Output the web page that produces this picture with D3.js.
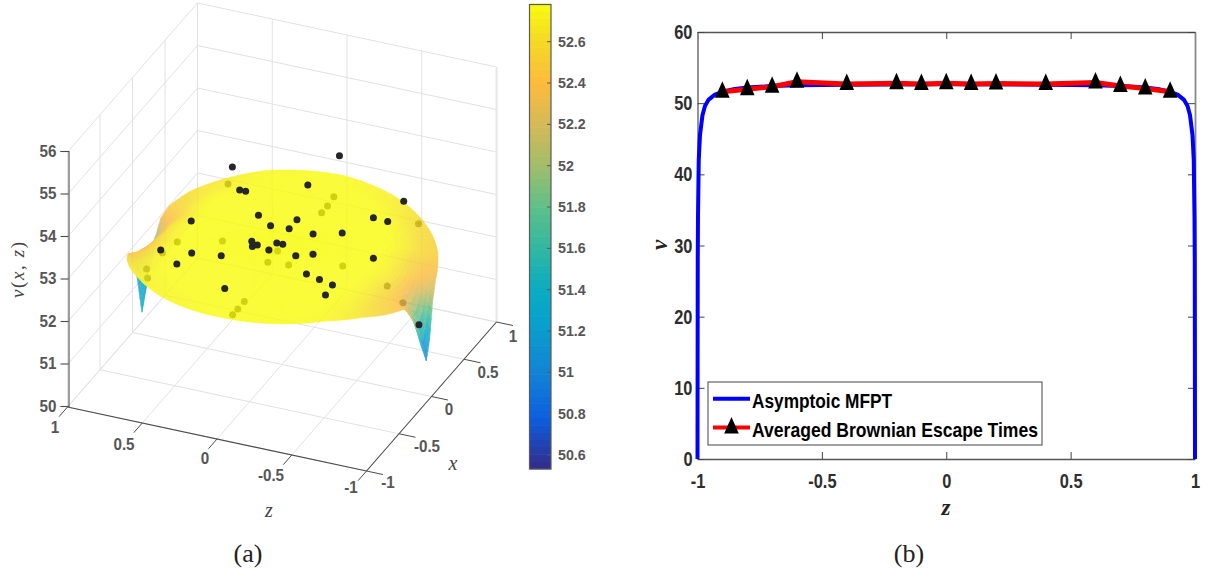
<!DOCTYPE html>
<html><head><meta charset="utf-8">
<script src="https://cdn.jsdelivr.net/npm/d3@7/dist/d3.min.js"></script>
<style>html,body{margin:0;padding:0;background:#fff}svg{display:block}</style>
</head><body><svg id="c" width="1207" height="573"></svg>
<script>
// ---------- data: panel (a) ----------
const vTicks=[50,51,52,53,54,55,56];
const zTicks=[1,0.5,0,-0.5,-1];
const xTicks=[-1,-0.5,0,0.5,1];
const cbarTicks=[50.6,50.8,51,51.2,51.4,51.6,51.8,52,52.2,52.4,52.6];
const cbarDomain=[50.53,52.78];
// surface rim: angle around the disc (0 = pole z=-1, 90 = x=1, 180 = pole z=1)
const rimAngle=[0,4,8,13,25,45,65,90,120,150,160,165,168,172,175,177,181,185,190,196.5,210,225,270,310,325,335,347,352,356,360];
const rimV=[50.81,51.18,52.0,52.3,52.5,52.58,52.7,52.78,52.76,52.62,52.5,52.33,52.0,51.75,51.0,50.42,51.18,51.77,52.1,52.4,52.6,52.72,52.78,52.76,52.65,52.52,52.38,51.88,51.3,50.81];
const rimR=[.965,.96,.96,.957,.957,.955,.95,.95,.95,.95,.95,.95,.95,.95,.955,.96,.955,.95,.95,.95,.95,.95,.95,.95,.95,.95,.945,.96,.96,.965];
const centreV=52.84;
const shallowMax=0.5;
// broad sag of the disc towards the rim, by fraction of radius
const sagRho=[0,.55,.7,.8,.9,1];
const sagAmount=[0,.03,.2,.45,.8,1];
// narrow spike at the poles, by fraction of radius
const spikeRho=[0,.8,.88,.94,1];
const spikeAmount=[0,0,.12,.4,1];
// Brownian samples above the surface
const aboveZ=[.31,-.28,.47,.43,.24,.59,.12,0,0,-.16,.11,.15,.12,.1,0,-.04,.62,.43,.46,.25,.01,-.17,-.26,-.32,-.42,-.52,-.53,.07,-.51,-.42,-.52,-.32,-.62,-.89];
const aboveX=[-.05,.24,.43,.43,.19,-.04,.1,.23,.11,.11,.65,-.12,-.18,-.15,-.08,-.08,-.44,-.4,-.56,-.36,-.18,-.18,-.12,-.36,-.39,-.42,-.55,-.72,.7,.44,.43,.19,-.02,.06];
const aboveV=[54.5,54.7,53,53,53,53,53,53,53,53,53,53,53,53,53,53,53,53,53,53,53,53,53,53,53,53,53,53,53,53,53,53,53,51.5];
// samples below the surface
const belowZ=[.67,.67,.42,.7,.71,.66,.06,.06,-.07,-.07,.01,0,0,-.15,-.38,-.73,-.9,-.6,0,0,0,.11];
const belowX=[.71,-.07,.05,-.23,-.45,-.55,.07,-.08,-.06,.06,.82,.7,.61,.12,.06,-.06,-.21,.72,-.58,-.68,-.76,.06];
const belowV=[52.5,52.5,52.5,52.5,52.5,52.5,52.5,52.5,52.5,52.5,52.5,52.5,52.5,52.5,52.5,52.5,52.5,52.5,52.5,52.5,52.5,52.5];
// parula colormap samples
const cmapT=[0,.11,.21,.32,.39,.47,.56,.65,.74,.83,.92,1];
const cmapC=["#352a87","#0b5fe0","#1384d4","#07a2cc","#0bacc0","#2fb7a2","#5cc08a","#a0bd6b","#d4ba58","#fcbb3c","#f5d926","#f9fb0e"];
// ---------- data: panel (b) ----------
const bXTicks=[-1,-0.5,0,0.5,1];
const bYTicks=[0,10,20,30,40,50,60];
const blueZ=[-1,-.9995,-.999,-.998,-.995,-.99,-.98,-.97,-.955,-.93,-.9,-.85,-.8,-.7,-.6,-.4,0,.4,.6,.7,.8,.85,.9,.93,.955,.97,.98,.99,.995,.998,.999,.9995,1];
const blueV=[0,15,28,34,42,45.5,48.3,49.6,50.5,51.2,51.6,52,52.2,52.4,52.5,52.6,52.65,52.6,52.5,52.4,52.2,52,51.6,51.2,50.5,49.6,48.3,45.5,42,34,28,15,0];
const redZ=[-.9,-.8,-.7,-.6,-.4,-.2,-.1,0,.1,.2,.4,.6,.7,.8,.9];
const redV=[51.6,51.95,52.3,53,52.7,52.8,52.7,52.8,52.7,52.75,52.7,52.9,52.4,52.05,51.6];
const legendLabels=["Asymptoic MFPT","Averaged Brownian Escape Times"];

const svg=d3.select("#c");
const sans="'Liberation Sans',Arial,sans-serif", serif="'Liberation Serif',serif";
const grey="#565656";
const condense=(sel,k)=>sel.each(function(){const w=this.getComputedTextLength();d3.select(this).attr("textLength",w*k).attr("lengthAdjust","spacingAndGlyphs");});

// ---------- projection of panel (a): orthographic, built from linear scales ----------
const zToPx=d3.scaleLinear().domain([-1,1]).range([149.5,-149.5]);
const zToPy=d3.scaleLinear().domain([-1,1]).range([32,-32]);
const xToPx=d3.scaleLinear().domain([-1,1]).range([-65,65]);
const xToPy=d3.scaleLinear().domain([-1,1]).range([74.5,-74.5]);
const vToDy=d3.scaleLinear().domain([50,56]).range([0,-255]);
const P=(z,x,v)=>[282+zToPx(z)+xToPx(x),364.5+zToPy(z)+xToPy(x)+vToDy(v)];

const colT=d3.scaleLinear().domain(cmapT).range(cmapC).interpolate(d3.interpolateRgb).clamp(true);
const colV=d3.scaleLinear().domain(cbarDomain).range([0,1]).clamp(true);
const colour=v=>colT(colV(v));

const A=svg.append("g");
const line=(g,a,b,st,w)=>g.append("line").attr("x1",a[0]).attr("y1",a[1]).attr("x2",b[0]).attr("y2",b[1]).attr("stroke",st).attr("stroke-width",w);

// walls and floor
const gridC="#e2e2e2";
const grid=A.append("g");
vTicks.forEach(v=>{
  line(grid,P(1,-1,v),P(1,1,v),gridC,1);
  line(grid,P(1,1,v),P(-1,1,v),gridC,1);
});
xTicks.forEach(x=>{
  line(grid,P(1,x,50),P(1,x,56),gridC,1);
  line(grid,P(1,x,50),P(-1,x,50),gridC,1);
});
zTicks.forEach(z=>{
  line(grid,P(z,1,50),P(z,1,56),gridC,1);
  line(grid,P(z,-1,50),P(z,1,50),gridC,1);
});
line(grid,P(-1,1,50),P(-1,1,56),"#e6e6e6",2);

// samples under the surface
const dot=(g,zs,xs,vs)=>g.selectAll("circle").data(zs.map((z,i)=>P(z,xs[i],vs[i]))).join("circle")
  .attr("cx",d=>d[0]).attr("cy",d=>d[1]).attr("r",3.5).attr("fill","#26262a");
dot(A.append("g"),belowZ,belowX,belowV);

// surface
const rimVs=d3.scaleLinear().domain(rimAngle).range(rimV);
const rimRs=d3.scaleLinear().domain(rimAngle).range(rimR);
const sag=d3.scaleLinear().domain(sagRho).range(sagAmount);
const spike=d3.scaleLinear().domain(spikeRho).range(spikeAmount);
const node=(deg,rho)=>{
  const R=rimRs(deg),a=deg*Math.PI/180,r=rho*R,drop=centreV-rimVs(deg);
  const shallow=Math.min(drop,shallowMax), deep=drop-shallow;
  const z=-Math.cos(a)*r,x=Math.sin(a)*r,v=centreV-shallow*sag(rho)-deep*spike(rho);
  return {z,x,v,p:P(z,x,v),base:P(z,x,50)[1]};
};
const thetas=d3.range(0,360,1), rhos=d3.range(0,40).map(i=>i/40);
const quads=[];
thetas.forEach(t=>{const t2=Math.min(t+1,360);
  rhos.forEach(q=>{const q2=q+1/40;
    const n=[node(t,q),node(t2,q),node(t2,q2),node(t,q2)];
    const v=d3.mean(n,d=>d.v), leftSide=d3.mean(n,d=>d.z)>0;
    quads.push({pts:n.map(d=>d.p),v:leftSide?Math.max(v,51.3):v,depth:d3.mean(n,d=>d.base)});
  });
});
quads.sort((a,b)=>a.depth-b.depth);
const poly=d3.line();
A.append("g").attr("opacity",.84).selectAll("path").data(quads).join("path")
  .attr("d",d=>poly(d.pts)+"Z").attr("fill",d=>colour(d.v)).attr("stroke",d=>colour(d.v)).attr("stroke-width",.5);

// samples over the surface
dot(A.append("g"),aboveZ,aboveX,aboveV);

// axes of panel (a)
const axC="#4c4c4c";
const txt=(g,x,y,s,o={})=>g.append("text").attr("x",x).attr("y",y).text(s)
  .attr("font-family",o.f||sans).attr("font-size",o.s||16.5).attr("font-weight",o.w||"bold").attr("font-style",o.i||"normal")
  .attr("fill",o.c||grey).attr("text-anchor",o.a||"middle").attr("dominant-baseline","central");
const vScale=d3.scaleLinear().domain([50,56]).range([406,151]);
const vAxis=A.append("g").attr("transform","translate(68.5,0)").call(d3.axisLeft(vScale).tickValues(vTicks).tickSize(8).tickPadding(4).tickFormat(d=>String(d)));
vAxis.selectAll("path,line").attr("stroke",axC).attr("stroke-width",1.1);
condense(vAxis.selectAll("text").attr("font-family",sans).attr("font-size",16.5).attr("font-weight","bold").attr("fill",grey),.92);
line(A,P(1,-1,50),P(-1,-1,50),axC,1.1);
line(A,P(-1,-1,50),P(-1,1,50),axC,1.1);
const zLab=[[55,427],[124,444],[205,458],[271,475],[351,487]];
zTicks.forEach((z,i)=>{
  line(A,P(z,-1,50),P(z,-1.13,50),axC,1);
  condense(txt(A,zLab[i][0],zLab[i][1],String(z)),.92);
});
const xLab=[[388,482],[427,446],[449,409],[488,372],[513,336]];
xTicks.forEach((x,i)=>{
  line(A,P(-1,x,50),P(-1.11,x,50),axC,1);
  condense(txt(A,xLab[i][0],xLab[i][1],String(x)),.92);
});
txt(A,269,510,"z",{f:serif,i:"italic",w:"normal",s:20,c:"#444"});
txt(A,453,463,"x",{f:serif,i:"italic",w:"normal",s:20,c:"#444"});
const vl=A.append("text").attr("transform","translate(17,270) rotate(-90)").attr("text-anchor","middle").attr("dominant-baseline","central")
  .attr("font-family",serif).attr("font-size",19).attr("fill","#444").attr("textLength",56).attr("lengthAdjust","spacing");
[["v","italic"],["(","normal"],["x","italic"],[", ","normal"],["z","italic"],[")","normal"]].forEach(t=>vl.append("tspan").attr("font-style",t[1]).text(t[0]));
txt(A,248,553,"(a)",{f:serif,w:"normal",s:26,c:"#222"});

// colour bar
const cy=d3.scaleLinear().domain(cbarDomain).range([469,4]);
const cb=A.append("g");
const steps=d3.range(0,64);
cb.selectAll("rect").data(steps).join("rect")
  .attr("x",529.5).attr("width",21.5)
  .attr("y",i=>cy(cbarDomain[0]+(i+1)/64*(cbarDomain[1]-cbarDomain[0]))-.3)
  .attr("height",465/64+.6)
  .attr("fill",i=>colour(cbarDomain[0]+(i+.5)/64*(cbarDomain[1]-cbarDomain[0])));
cb.append("rect").attr("x",529.5).attr("y",4.5).attr("width",21.5).attr("height",464.5).attr("fill","none").attr("stroke","#5a5a5a").attr("stroke-width",1.2);
const cbAx=cb.append("g").attr("transform","translate(551,0)").call(d3.axisRight(cy).tickValues(cbarTicks).tickSizeInner(-4).tickSizeOuter(0).tickPadding(7).tickFormat(d=>String(d)));
cbAx.select("path").remove();
cbAx.selectAll("line").attr("stroke","#5a5a5a");
condense(cbAx.selectAll("text").attr("font-family",sans).attr("font-size",15.5).attr("font-weight","bold").attr("fill",grey),.92);

// ---------- panel (b) ----------
const B=svg.append("g");
const sx=d3.scaleLinear().domain([-1,1]).range([697.5,1195]);
const sy=d3.scaleLinear().domain([0,60]).range([459,32]);
const tf=d=>String(d);
const styl=(g,c,w)=>{g.selectAll("path").attr("stroke",c).attr("stroke-width",w);g.selectAll("line").attr("stroke","#444").attr("stroke-width",1);};
const gb=B.append("g").attr("transform","translate(0,459)").call(d3.axisBottom(sx).tickValues(bXTicks).tickSizeInner(-7).tickSizeOuter(0).tickPadding(14).tickFormat(tf));
const gt=B.append("g").attr("transform","translate(0,32)").call(d3.axisTop(sx).tickValues(bXTicks).tickSizeInner(-7).tickSizeOuter(0).tickFormat(""));
const gl=B.append("g").attr("transform","translate(697.5,0)").call(d3.axisLeft(sy).tickValues(bYTicks).tickSizeInner(-7).tickSizeOuter(0).tickPadding(5).tickFormat(tf));
const gr=B.append("g").attr("transform","translate(1195,0)").call(d3.axisRight(sy).tickValues(bYTicks).tickSizeInner(-7).tickSizeOuter(0).tickFormat(""));
styl(gb,"#555",1.4);styl(gt,"#555",1.4);styl(gl,"#888",1.8);styl(gr,"#888",1.8);
[gb,gl].forEach(g=>condense(g.selectAll("text").attr("font-family",sans).attr("font-size",20.5).attr("font-weight","bold").attr("fill","#2e2e2e"),.8));

const path=d3.line().x((d,i)=>d[0]).y(d=>d[1]);
B.append("path").attr("d",path(blueZ.map((z,i)=>[sx(z),sy(blueV[i])]))).attr("fill","none").attr("stroke","#0000ff").attr("stroke-width",4).attr("stroke-linejoin","round");
B.append("path").attr("d",path(redZ.map((z,i)=>[sx(z),sy(redV[i])]))).attr("fill","none").attr("stroke","#ff0000").attr("stroke-width",5).attr("stroke-linejoin","round");
const tri="M0,-10.5L7.3,6L-7.3,6Z";
B.append("g").selectAll("path").data(redZ).join("path").attr("d",tri).attr("fill","#000")
  .attr("transform",(z,i)=>`translate(${sx(z)},${sy(redV[i])})`);

// legend
const L=B.append("g");
L.append("rect").attr("x",708).attr("y",382).attr("width",334).attr("height",63).attr("fill","#fff").attr("stroke","#444").attr("stroke-width",1);
line(L,[713,398.7],[750,398.7],"#0000ff",4);
line(L,[713,427.5],[750,427.5],"#ff0000",4);
L.append("path").attr("d",tri).attr("fill","#000").attr("transform","translate(731.5,427.5)");
const legendW=[140,286], legendY=[400,429];
legendLabels.forEach((s,i)=>{
  txt(L,752,legendY[i],s,{a:"start",s:21,c:"#000"}).attr("textLength",legendW[i]).attr("lengthAdjust","spacingAndGlyphs");
});
txt(B,659,245,"v",{f:serif,i:"italic",s:23,c:"#222"}).attr("transform","rotate(-90 659 245)");
txt(B,946,507,"z",{f:serif,i:"italic",s:23,c:"#222"});
txt(B,909,553,"(b)",{f:serif,w:"normal",s:26,c:"#222"});
</script></body></html>
